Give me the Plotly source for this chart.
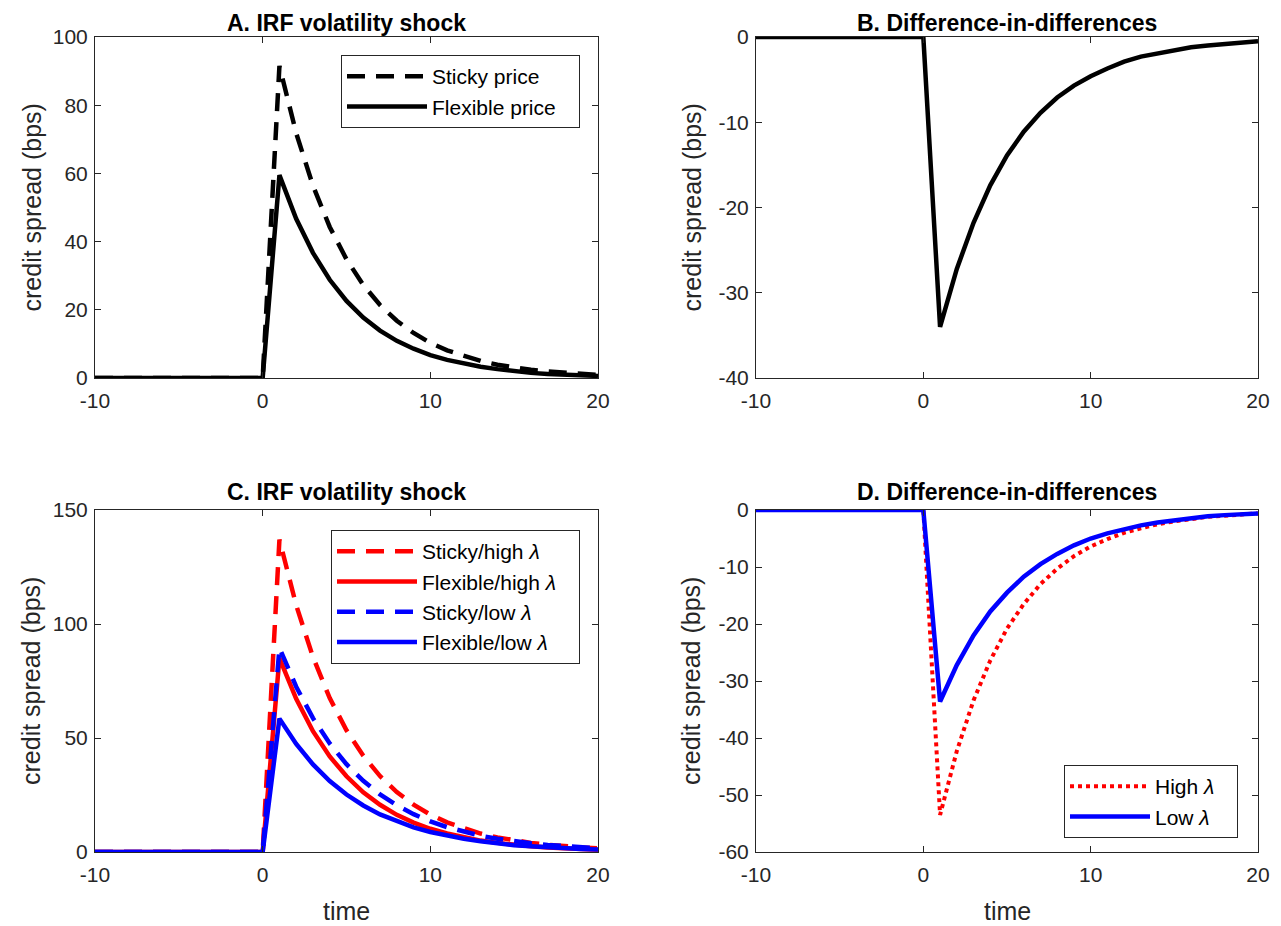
import plotly.graph_objects as go

# ---------------- data ----------------
time = list(range(-10, 21))
zeros_pre = [0.0] * 11  # t = -10 .. 0

sticky_A = zeros_pre + [91.5, 71.8, 56.4, 44.3, 34.8, 27.3, 21.4, 16.8, 13.2, 10.3,
                        8.1, 6.4, 5.0, 3.9, 3.1, 2.4, 1.9, 1.5, 1.2, 0.9]
flex_A = zeros_pre + [59.5, 46.7, 36.7, 28.8, 22.6, 17.7, 13.9, 10.9, 8.6, 6.7,
                      5.3, 4.2, 3.3, 2.6, 2.0, 1.5, 1.2, 1.0, 0.8, 0.6]

did_B = zeros_pre + [-34.0, -27.2, -21.8, -17.4, -13.9, -11.1, -8.9, -7.1, -5.7, -4.6,
                     -3.7, -2.9, -2.3, -1.9, -1.5, -1.2, -1.0, -0.8, -0.6, -0.5]

sticky_high = zeros_pre + [137.0, 108.2, 85.5, 67.5, 53.4, 42.2, 33.3, 26.3, 20.8, 16.4,
                           13.0, 10.3, 8.1, 6.4, 5.1, 4.0, 3.2, 2.5, 2.0, 1.6]
flex_high = zeros_pre + [85.0, 67.2, 53.0, 41.9, 33.2, 26.2, 20.7, 16.3, 12.9, 10.2,
                         8.1, 6.4, 5.0, 4.0, 3.1, 2.5, 2.0, 1.5, 1.3, 1.0]
sticky_low = zeros_pre + [89.5, 72.5, 58.7, 47.6, 38.5, 31.2, 25.3, 20.5, 16.6, 13.4,
                          10.9, 8.8, 7.1, 5.8, 4.7, 3.8, 3.1, 2.5, 2.0, 1.6]
flex_low = zeros_pre + [58.5, 47.4, 38.4, 31.1, 25.2, 20.4, 16.5, 13.4, 10.8, 8.8,
                        7.1, 5.8, 4.7, 3.8, 3.0, 2.5, 2.0, 1.6, 1.3, 1.1]

did_high = zeros_pre + [-53.5, -42.3, -33.4, -26.4, -20.8, -16.5, -13.0, -10.3, -8.1, -6.4,
                        -5.1, -4.0, -3.2, -2.5, -2.0, -1.6, -1.2, -1.0, -0.8, -0.6]
did_low = zeros_pre + [-33.6, -27.2, -22.0, -17.8, -14.5, -11.7, -9.5, -7.7, -6.2, -5.0,
                       -4.1, -3.3, -2.7, -2.2, -1.8, -1.4, -1.1, -0.9, -0.7, -0.6]

x_ticks = [-10, 0, 10, 20]
x_ticktext = ["-10", "0", "10", "20"]
yA_ticks = [0, 20, 40, 60, 80, 100]
yB_ticks = [-40, -30, -20, -10, 0]
yC_ticks = [0, 50, 100, 150]
yD_ticks = [-60, -50, -40, -30, -20, -10, 0]

titles = ["A. IRF volatility shock", "B. Difference-in-differences",
          "C. IRF volatility shock", "D. Difference-in-differences"]
ylabel = "credit spread (bps)"
xlabel = "time"

# ---------------- layout geometry ----------------
OFF = 8  # page body margin
W, H = 1281 - OFF, 926 - OFF
FONT = "Liberation Sans, Arial, sans-serif"
AX = "#262626"
LW = 4.5
DASH = "18px,11px"
PAD = "\u00a0" * 3

def fx(px):
    return (px - OFF) / W

def fy(py):
    return 1 - (py - OFF) / H

dom_x_left = [fx(95), fx(598)]
dom_x_right = [fx(756), fx(1258)]
dom_y_top = [fy(378), fy(37)]
dom_y_bot = [fy(852), fy(510)]

fig = go.Figure()

def tlabels(vals):
    return [str(v) for v in vals]

# Panel A
fig.add_trace(go.Scatter(x=time, y=sticky_A, mode="lines", name="Sticky price" + PAD,
                         line=dict(color="black", width=LW, dash=DASH),
                         xaxis="x", yaxis="y", legend="legend"))
fig.add_trace(go.Scatter(x=time, y=flex_A, mode="lines", name="Flexible price" + PAD,
                         line=dict(color="black", width=LW),
                         xaxis="x", yaxis="y", legend="legend"))
# Panel B
fig.add_trace(go.Scatter(x=time, y=did_B, mode="lines", name="DiD",
                         line=dict(color="black", width=LW), showlegend=False,
                         xaxis="x2", yaxis="y2"))
# Panel C
fig.add_trace(go.Scatter(x=time, y=sticky_high, mode="lines", name="Sticky/high <i>λ</i>" + PAD,
                         line=dict(color="#ff0000", width=LW, dash=DASH),
                         xaxis="x3", yaxis="y3", legend="legend2"))
fig.add_trace(go.Scatter(x=time, y=flex_high, mode="lines", name="Flexible/high <i>λ</i>" + PAD,
                         line=dict(color="#ff0000", width=LW),
                         xaxis="x3", yaxis="y3", legend="legend2"))
fig.add_trace(go.Scatter(x=time, y=sticky_low, mode="lines", name="Sticky/low <i>λ</i>" + PAD,
                         line=dict(color="#0000ff", width=LW, dash=DASH),
                         xaxis="x3", yaxis="y3", legend="legend2"))
fig.add_trace(go.Scatter(x=time, y=flex_low, mode="lines", name="Flexible/low <i>λ</i>" + PAD,
                         line=dict(color="#0000ff", width=LW),
                         xaxis="x3", yaxis="y3", legend="legend2"))
# Panel D
fig.add_trace(go.Scatter(x=time, y=did_high, mode="lines", name="High <i>λ</i>" + PAD,
                         line=dict(color="#ff0000", width=4, dash="4px,4px"),
                         xaxis="x4", yaxis="y4", legend="legend3"))
fig.add_trace(go.Scatter(x=time, y=did_low, mode="lines", name="Low <i>λ</i>" + PAD,
                         line=dict(color="#0000ff", width=LW),
                         xaxis="x4", yaxis="y4", legend="legend3"))

tickfont = dict(family=FONT, size=21, color=AX)

def xaxis(domain, anchor):
    return dict(domain=domain, anchor=anchor, range=[-10, 20],
                tickvals=x_ticks, ticktext=x_ticktext,
                ticks="inside", ticklen=6, tickcolor=AX, tickwidth=1,
                showline=True, linecolor=AX, linewidth=1, mirror="allticks",
                showgrid=False, zeroline=False, tickfont=tickfont,
                ticklabelstandoff=4, automargin=False)

def yaxis(domain, anchor, rng, ticks):
    return dict(domain=domain, anchor=anchor, range=rng,
                tickvals=ticks, ticktext=tlabels(ticks),
                ticks="inside", ticklen=6, tickcolor=AX, tickwidth=1,
                showline=True, linecolor=AX, linewidth=1, mirror="allticks",
                showgrid=False, zeroline=False, tickfont=tickfont,
                ticklabelstandoff=2, automargin=False)

legend_common = dict(bgcolor="white", bordercolor=AX, borderwidth=1,
                     font=dict(family=FONT, size=21, color="black"),
                     itemwidth=80, xanchor="right", yanchor="top",
                     tracegroupgap=0, itemclick=False, itemdoubleclick=False)

annotations = []
title_font = dict(family=FONT, size=23, color="black")
label_font = dict(family=FONT, size=25, color=AX)
centers_x = [(95 + 598) / 2, (756 + 1258) / 2]
for i, t in enumerate(titles):
    cx = centers_x[i % 2]
    cy = 23 if i < 2 else 492
    annotations.append(dict(text=f"<b>{t}</b>", x=fx(cx), y=fy(cy), xref="paper", yref="paper",
                            showarrow=False, font=title_font, xanchor="center", yanchor="middle"))
for i in range(4):
    lx = 31 if i % 2 == 0 else 691
    ly = (37 + 378) / 2 if i < 2 else (510 + 852) / 2
    annotations.append(dict(text=ylabel, x=fx(lx), y=fy(ly), xref="paper", yref="paper",
                            showarrow=False, font=label_font, textangle=-90,
                            xanchor="center", yanchor="middle"))
for cx in centers_x:
    annotations.append(dict(text=xlabel, x=fx(cx), y=fy(911), xref="paper", yref="paper",
                            showarrow=False, font=label_font, xanchor="center", yanchor="middle"))

fig.update_layout(
    width=W, height=H, margin=dict(l=0, r=0, t=0, b=0, autoexpand=False),
    paper_bgcolor="white", plot_bgcolor="white",
    font=dict(family=FONT, color=AX),
    xaxis=xaxis(dom_x_left, "y"),
    yaxis=yaxis(dom_y_top, "x", [0, 100], yA_ticks),
    xaxis2=xaxis(dom_x_right, "y2"),
    yaxis2=yaxis(dom_y_top, "x2", [-40, 0], yB_ticks),
    xaxis3=xaxis(dom_x_left, "y3"),
    yaxis3=yaxis(dom_y_bot, "x3", [0, 150], yC_ticks),
    xaxis4=xaxis(dom_x_right, "y4"),
    yaxis4=yaxis(dom_y_bot, "x4", [-60, 0], yD_ticks),
    legend=dict(x=fx(580), y=fy(55), **legend_common),
    legend2=dict(x=fx(580), y=fy(530), **legend_common),
    legend3=dict(x=fx(1238), y=fy(765), **legend_common),
    annotations=annotations,
    showlegend=True,
)

fig.write_html("out.html")
